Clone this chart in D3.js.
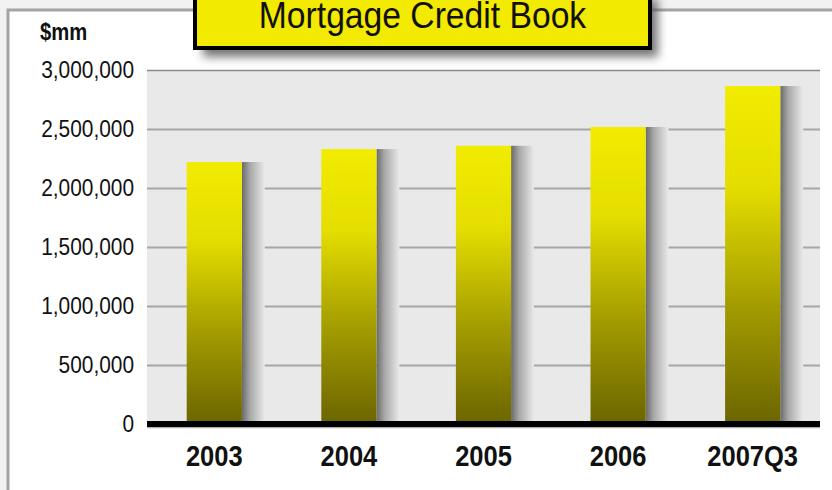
<!DOCTYPE html>
<html>
<head>
<meta charset="utf-8">
<script src="https://cdn.jsdelivr.net/npm/d3@7/dist/d3.min.js"></script>
<style>
  html, body { margin: 0; padding: 0; background: #f2f2f2; }
  svg { display: block; }
  text { font-family: "Liberation Sans", Arial, sans-serif; }
</style>
</head>
<body>
<svg id="chart" width="832" height="490"></svg>
<script>
const categories = ["2003", "2004", "2005", "2006", "2007Q3"];
const values = [2220000, 2330000, 2358000, 2517000, 2864000];
const yTicks = [0, 500000, 1000000, 1500000, 2000000, 2500000, 3000000];
const titleText = "Mortgage Credit Book";
const unitText = "$mm";

const W = 832, H = 490;
const plot = { left: 147, right: 820, top: 70, bottom: 424 };

const svg = d3.select("#chart");
const defs = svg.append("defs");

const blur = defs.append("filter").attr("id", "shadowBlur")
  .attr("x", "-20%").attr("y", "-40%").attr("width", "140%").attr("height", "200%");
blur.append("feGaussianBlur").attr("stdDeviation", 5);

const frameBlur = defs.append("filter").attr("id", "frameBlur")
  .attr("x", "-5%").attr("y", "-5%").attr("width", "110%").attr("height", "110%");
frameBlur.append("feGaussianBlur").attr("stdDeviation", 2);

const barGrad = defs.append("linearGradient").attr("id", "barGrad")
  .attr("x1", 0).attr("y1", 0).attr("x2", 0).attr("y2", 1);
barGrad.append("stop").attr("offset", "0%").attr("stop-color", "#f2ec00");
barGrad.append("stop").attr("offset", "30%").attr("stop-color", "#e4dd00");
barGrad.append("stop").attr("offset", "65%").attr("stop-color", "#a39c00");
barGrad.append("stop").attr("offset", "100%").attr("stop-color", "#6b6500");

const shGrad = defs.append("linearGradient").attr("id", "shGrad")
  .attr("x1", 0).attr("y1", 0).attr("x2", 1).attr("y2", 0);
shGrad.append("stop").attr("offset", "0%").attr("stop-color", "#6a6a6a");
shGrad.append("stop").attr("offset", "35%").attr("stop-color", "#a8a8a8");
shGrad.append("stop").attr("offset", "100%").attr("stop-color", "#e9e9e9");

// outer frame
svg.append("rect").attr("x", 10).attr("y", 12).attr("width", 900).attr("height", 600)
  .attr("fill", "#9a9a9a").attr("filter", "url(#frameBlur)");
svg.append("rect").attr("x", 8).attr("y", 10).attr("width", 900).attr("height", 600)
  .attr("fill", "#ffffff").attr("stroke", "#a4a4a4").attr("stroke-width", 3);

// scales
const x = d3.scaleBand().domain(categories).range([plot.left, plot.right]).padding(0);
const y = d3.scaleLinear().domain([0, 3000000]).range([plot.bottom, plot.top]);
const barW = x.bandwidth() * 0.41;
const shadowW = x.bandwidth() * 0.17;

// plot background
svg.append("rect").attr("x", plot.left).attr("y", plot.top)
  .attr("width", plot.right - plot.left).attr("height", plot.bottom - plot.top)
  .attr("fill", "#e9e9e9");

// gridlines
const grid = svg.append("g").attr("transform", `translate(${plot.left},0)`)
  .call(d3.axisLeft(y).tickValues(yTicks.filter(d => d > 0)).tickSize(-(plot.right - plot.left)).tickFormat(""));
grid.select(".domain").remove();
grid.selectAll(".tick line").attr("stroke", "#a6a6a6").attr("stroke-width", 2);
grid.selectAll(".tick").filter(d => d === 3000000).select("line").attr("stroke", "#8a8a8a").attr("stroke-width", 1.5);

// y labels (condensed)
const ySx = 0.87, yPad = 13;
const yAxis = svg.append("g").attr("transform", `translate(${plot.left},0)`)
  .call(d3.axisLeft(y).tickValues(yTicks).tickSize(0).tickPadding(yPad).tickFormat(d3.format(",")));
yAxis.select(".domain").remove();
yAxis.selectAll("text").attr("font-size", 24).attr("fill", "#111")
  .attr("dy", "0.33em").attr("x", -yPad / ySx).attr("transform", `scale(${ySx},1)`);

// bar shadows
svg.append("g").selectAll("rect").data(values).join("rect")
  .attr("x", (d, i) => x(categories[i]) + x.bandwidth() / 2 + barW / 2)
  .attr("y", d => y(d))
  .attr("width", shadowW)
  .attr("height", d => y(0) - y(d))
  .attr("fill", "url(#shGrad)");

// bars
svg.append("g").selectAll("rect").data(values).join("rect")
  .attr("x", (d, i) => x(categories[i]) + x.bandwidth() / 2 - barW / 2)
  .attr("y", d => y(d))
  .attr("width", barW)
  .attr("height", d => y(0) - y(d))
  .attr("fill", "url(#barGrad)");

// x axis baseline
svg.append("line").attr("x1", plot.left).attr("x2", plot.right)
  .attr("y1", y(0) + 3.5).attr("y2", y(0) + 3.5).attr("stroke", "#b0b0b0").attr("stroke-width", 1.5);
svg.append("line").attr("x1", plot.left).attr("x2", plot.right)
  .attr("y1", y(0)).attr("y2", y(0)).attr("stroke", "#000").attr("stroke-width", 6);

// x labels (bold condensed)
const xAxis = svg.append("g").attr("transform", `translate(0,${y(0)})`)
  .call(d3.axisBottom(x).tickSize(0).tickPadding(0));
xAxis.select(".domain").remove();
xAxis.selectAll("text").attr("font-size", 30).attr("font-weight", "bold")
  .attr("fill", "#111").attr("dy", 0).attr("y", 42).attr("transform", "scale(0.85,1)");

// unit label
svg.append("text").attr("transform", "translate(40,40) scale(0.88,1)")
  .attr("font-size", 23).attr("font-weight", "bold").attr("fill", "#111").text(unitText);

// title box
const tb = { x: 195, y: -10, w: 455, h: 58 };
svg.append("rect").attr("x", tb.x + 8).attr("y", tb.y + 9).attr("width", tb.w).attr("height", tb.h)
  .attr("fill", "#555").attr("opacity", 0.8).attr("filter", "url(#shadowBlur)");
svg.append("rect").attr("x", tb.x).attr("y", tb.y).attr("width", tb.w).attr("height", tb.h)
  .attr("fill", "#f2ea00").attr("stroke", "#000").attr("stroke-width", 4);
svg.append("text").attr("transform", `translate(${tb.x + tb.w / 2},28) scale(0.91,1)`)
  .attr("text-anchor", "middle").attr("font-size", 37).attr("fill", "#111").text(titleText);
</script>
</body>
</html>
